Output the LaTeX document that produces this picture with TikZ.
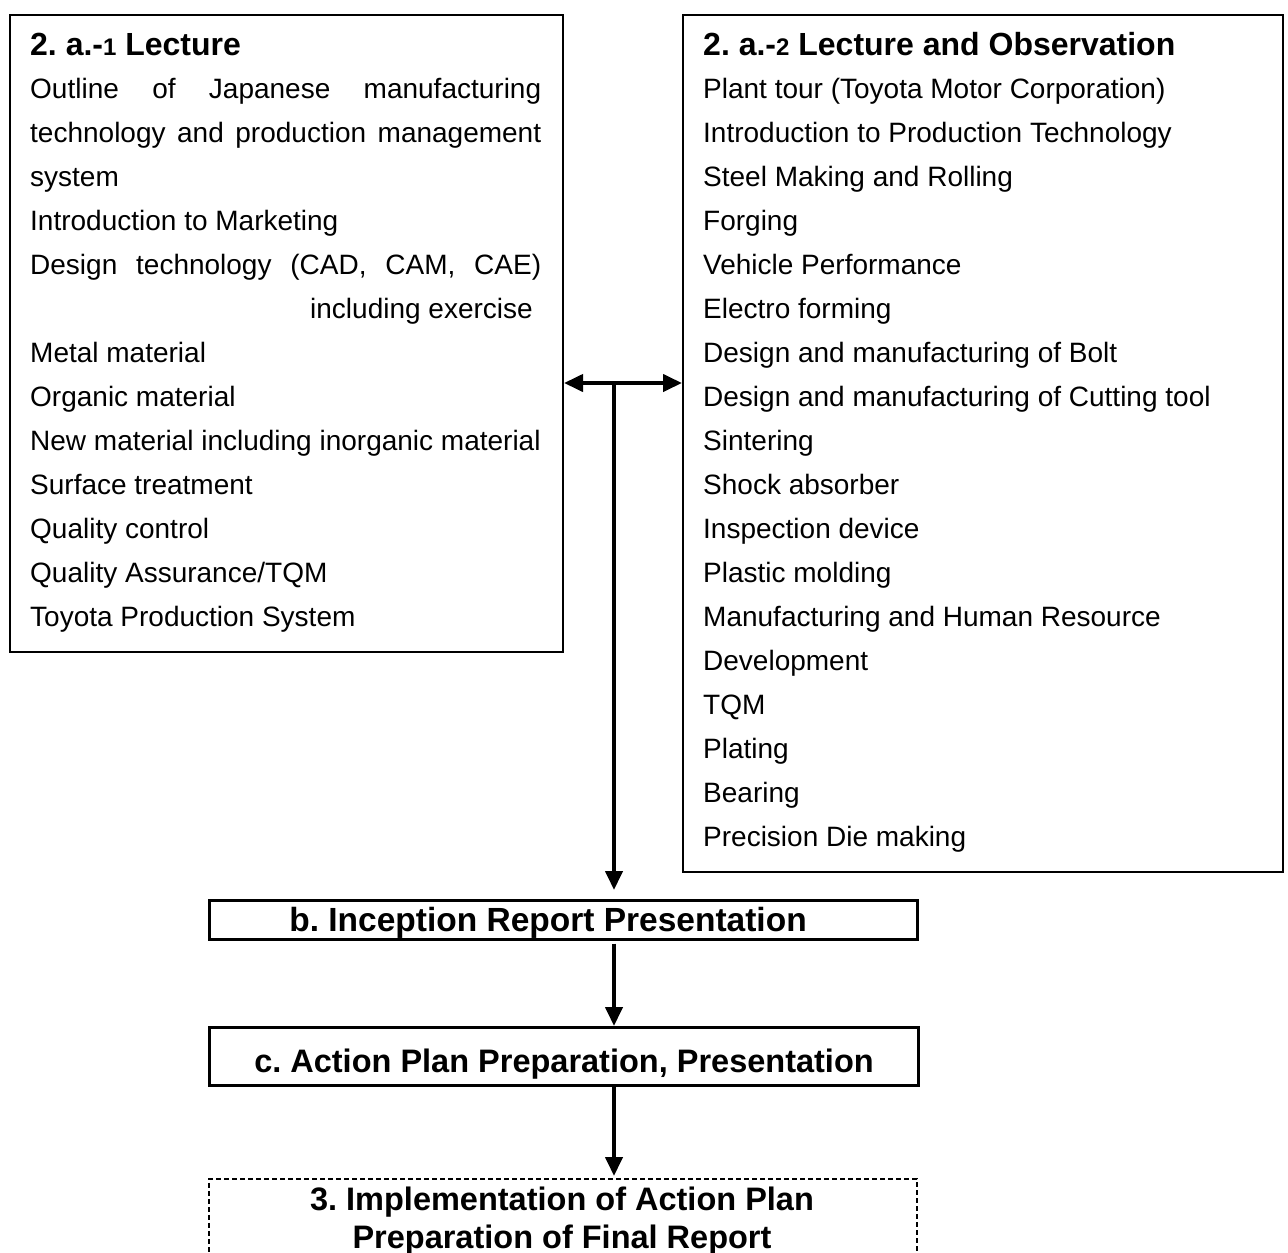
\documentclass[tikz,border=0pt]{standalone}
\usepackage{fontspec}
\setmainfont{Liberation Sans}
\usetikzlibrary{arrows.meta}
\frenchspacing
\begin{document}
\frenchspacing
\begin{tikzpicture}[x=1pt,y=-1pt,
  box/.style={draw, line width=2pt, inner sep=0pt, anchor=north west},
  body/.style={anchor=base west, inner sep=0pt, font=\fontsize{28}{33}\selectfont},
  head/.style={anchor=base west, inner sep=0pt, font=\fontsize{32}{38}\selectfont\bfseries},
  ctr/.style={anchor=base, inner sep=0pt, font=\fontsize{32.5}{38}\selectfont\bfseries},
  arr/.style={line width=4pt, -{Triangle[length=19pt,width=17pt]}},
]
\useasboundingbox (0,0) rectangle (1288,1253);
\clip (0,0) rectangle (1288,1253);

% boxes
\node[box, minimum width=553pt, minimum height=637pt] (lbox) at (9,14) {};
\node[box, minimum width=600pt, minimum height=857pt] (rbox) at (682,14) {};
\node[box, line width=2.5pt, minimum width=708pt, minimum height=39pt] (bbox) at (208,899) {};
\node[box, line width=2.5pt, minimum width=709pt, minimum height=58pt] (cbox) at (208,1026) {};
\node[box, line width=1.5pt, dash pattern=on 5pt off 3pt, minimum width=708pt, minimum height=140pt] (dbox) at (208,1178) {};

% left box texts
\node[head] (lh) at (30,55) {2. a.-{\fontsize{24}{28}\selectfont 1} Lecture};
\node[body] (l1) at (30,98) {\hbox to 511pt{Outline\hfill of\hfill Japanese\hfill manufacturing}};
\node[body] (l2) at (30,142) {\hbox to 511pt{technology\hfill and\hfill production\hfill management}};
\node[body] (l3) at (30,186) {system};
\node[body] (l4) at (30,230) {Introduction to Marketing};
\node[body] (l5) at (30,274) {\hbox to 511pt{Design\hfill technology\hfill (CAD,\hfill CAM,\hfill CAE)}};
\node[body] (l6) at (310,318) {including exercise};
\node[body] (l7) at (30,362) {Metal material};
\node[body] (l8) at (30,406) {Organic material};
\node[body] (l9) at (30,450) {New material including inorganic material};
\node[body] (l10) at (30,494) {Surface treatment};
\node[body] (l11) at (30,538) {Quality control};
\node[body] (l12) at (30,582) {Quality Assurance/TQM};
\node[body] (l13) at (30,626) {Toyota Production System};

% right box texts
\node[head] (rh) at (703,55) {2. a.-{\fontsize{24}{28}\selectfont 2} Lecture and Observation};
\node[body] (r1) at (703,98) {Plant tour (Toyota Motor Corporation)};
\node[body] (r2) at (703,142) {Introduction to Production Technology};
\node[body] (r3) at (703,186) {Steel Making and Rolling};
\node[body] (r4) at (703,230) {Forging};
\node[body] (r5) at (703,274) {Vehicle Performance};
\node[body] (r6) at (703,318) {Electro forming};
\node[body] (r7) at (703,362) {Design and manufacturing of Bolt};
\node[body] (r8) at (703,406) {Design and manufacturing of Cutting tool};
\node[body] (r9) at (703,450) {Sintering};
\node[body] (r10) at (703,494) {Shock absorber};
\node[body] (r11) at (703,538) {Inspection device};
\node[body] (r12) at (703,582) {Plastic molding};
\node[body] (r13) at (703,626) {Manufacturing and Human Resource};
\node[body] (r14) at (703,670) {Development};
\node[body] (r15) at (703,714) {TQM};
\node[body] (r16) at (703,758) {Plating};
\node[body] (r17) at (703,802) {Bearing};
\node[body] (r18) at (703,846) {Precision Die making};

% bottom texts
\node[ctr, font=\fontsize{33.5}{38}\selectfont\bfseries] (bt) at (548,931) {b. Inception Report Presentation};
\node[ctr] (ct) at (564,1072) {c. Action Plan Preparation, Presentation};
\node[ctr] (dt1) at (562,1210) {3. Implementation of Action Plan};
\node[ctr] (dt2) at (562,1248) {Preparation of Final Report};

% connectors
\coordinate (j) at (614,383);
\draw[line width=4pt, {Triangle[length=19pt,width=17pt]}-{Triangle[length=19pt,width=17pt]}]
  (lbox.east |- j) -- (rbox.west |- j);
\draw[arr, shorten >=9pt] ([yshift=2pt]j) -- (j |- bbox.north);
\draw[arr] ([yshift=-3pt]bbox.south -| j) -- (j |- cbox.north);
\draw[arr, shorten >=2pt] (cbox.south -| j) -- (j |- dbox.north);
\end{tikzpicture}
\end{document}
